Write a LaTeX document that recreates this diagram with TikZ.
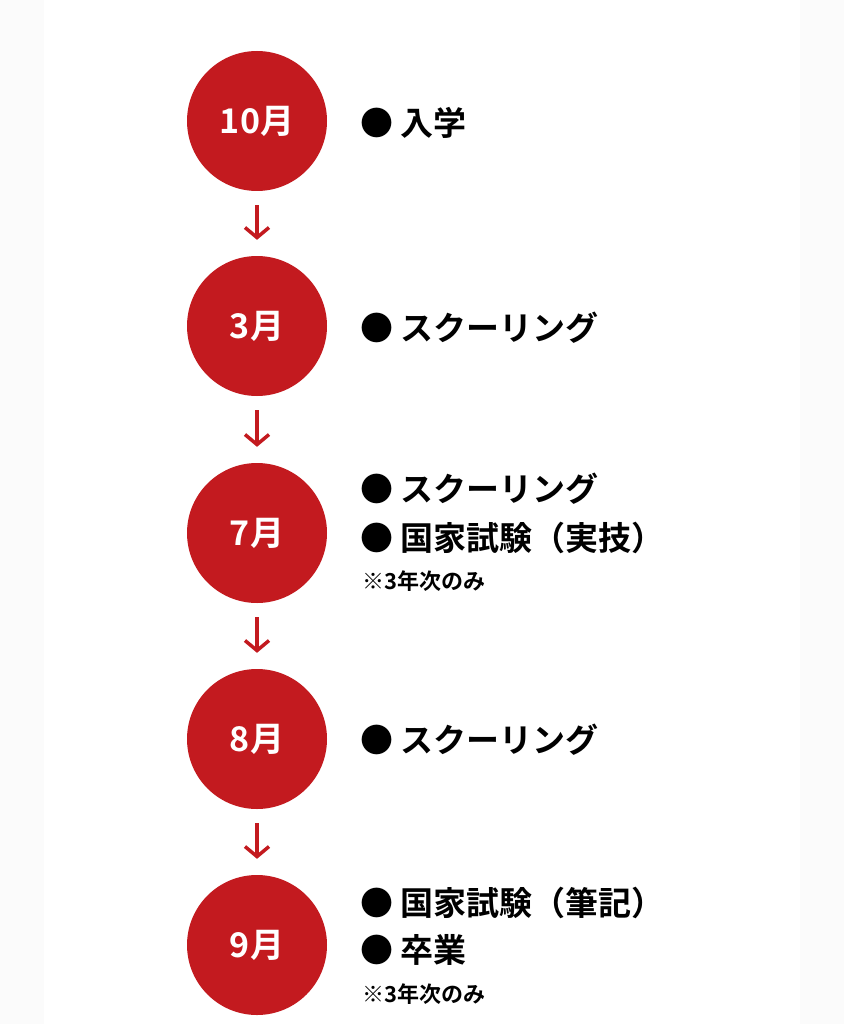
\documentclass[tikz,border=0pt]{standalone}
\usepackage{fontspec}
\newfontfamily\cjk{Noto Sans CJK JP Bold}
\usetikzlibrary{arrows.meta}
\definecolor{myred}{HTML}{C31A1F}
\begin{document}
\begin{tikzpicture}[x=1pt,y=-1pt,
  month/.style={circle,fill=myred,minimum size=140pt,inner sep=0pt,text=white,font=\cjk\fontsize{34}{34}\selectfont},
  item/.style={anchor=west,inner sep=0pt,font=\cjk\fontsize{33}{33}\selectfont},
  note/.style={anchor=west,inner sep=0pt,font=\cjk\fontsize{22}{22}\selectfont},
  flow/.style={draw=myred,line width=3.5pt,-{Straight Barb[length=10pt,width=24pt,line width=3.5pt]}}]
\useasboundingbox[fill=white] (0,0) rectangle (844,1024);
\fill[gray!3] (0,0) rectangle (44,1024);
\fill[gray!3] (800,0) rectangle (844,1024);
\fill[white] (44,0) rectangle (800,1024);
\node[month] (m1) at (257,121) {10月};
\node[month] (m2) at (257,326) {3月};
\node[month] (m3) at (257,533) {7月};
\node[month] (m4) at (257,739) {8月};
\node[month] (m5) at (257,945) {9月};
\foreach \a/\b in {m1/m2,m2/m3,m3/m4,m4/m5}{
  \draw[flow] ([yshift=-14pt]\a.south) -- ([yshift=16pt]\b.north);}
\node[item] (t1) at (360,123) {● 入学};
\node[item] (t2) at (360,328) {● スクーリング};
\node[item] (t3a) at (360,489) {● スクーリング};
\node[item] (t3b) at (360,538) {● 国家試験（実技）};
\node[note] (t3c) at (362,581) {※3年次のみ};
\node[item] (t4) at (360,740) {● スクーリング};
\node[item] (t5a) at (360,903) {● 国家試験（筆記）};
\node[item] (t5b) at (360,950) {● 卒業};
\node[note] (t5c) at (362,994) {※3年次のみ};
\end{tikzpicture}
\end{document}
